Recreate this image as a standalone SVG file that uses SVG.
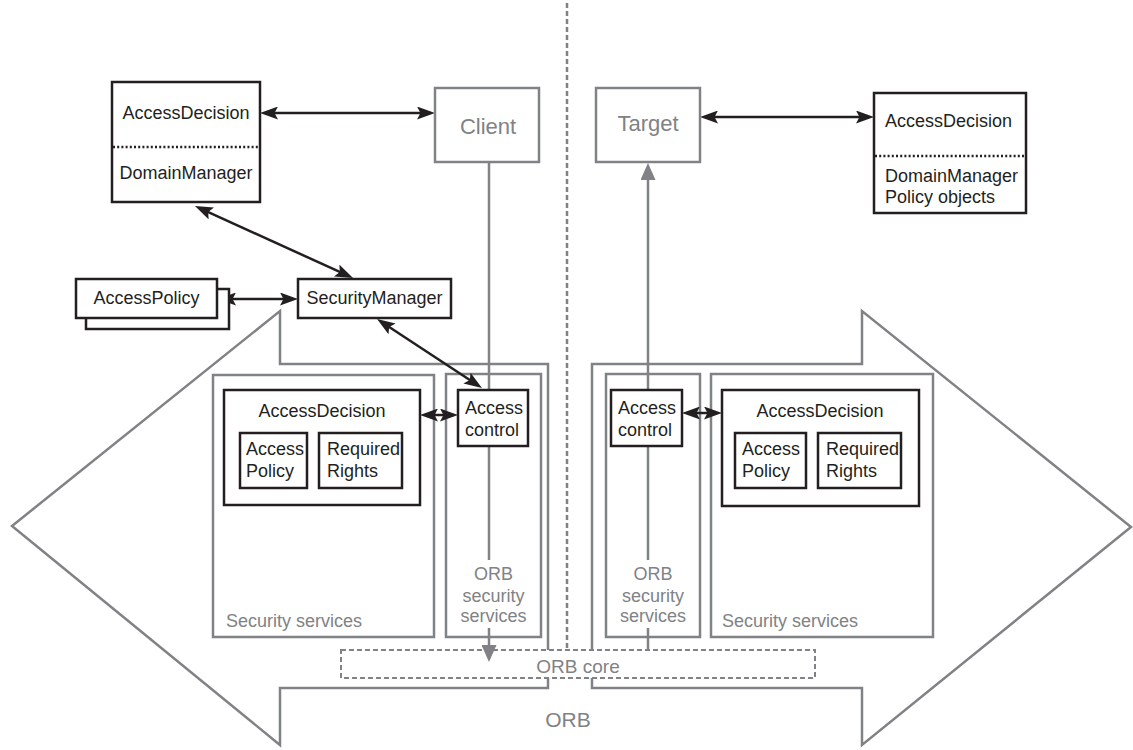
<svg xmlns="http://www.w3.org/2000/svg" width="1133" height="750" viewBox="0 0 1133 750">
  <defs>
    <style>
      .box{fill:#fff;stroke:#231f20;stroke-width:2.5}
      .gbox{fill:#fff;stroke:#808285;stroke-width:2.5}
      .frame{fill:none;stroke:#808285;stroke-width:2.5}
      .t{font-family:"Liberation Sans",Arial,sans-serif;font-size:18px;fill:#231f20}
      .tg{font-family:"Liberation Sans",Arial,sans-serif;font-size:18px;fill:#808285}
      .mid{text-anchor:middle}
      .con{fill:none;stroke:#231f20;stroke-width:2.5}
      .gcon{fill:none;stroke:#808285;stroke-width:2.5}
      .dots{stroke:#231f20;stroke-width:2.5;stroke-dasharray:2 2.2}
    </style>
    <marker id="ah" viewBox="0 0 18 13" refX="13" refY="6.5" markerWidth="18" markerHeight="13" markerUnits="userSpaceOnUse" orient="auto-start-reverse">
      <path d="M0,0 L18,6.5 L0,13 L3.5,6.5 z" fill="#231f20"/>
    </marker>
    <marker id="gh" viewBox="0 0 17 15" refX="13" refY="7.5" markerWidth="17" markerHeight="15" markerUnits="userSpaceOnUse" orient="auto">
      <path d="M0,0 L17,7.5 L0,15 z" fill="#808285"/>
    </marker>
  </defs>

  <!-- ORB outline arrows, service areas and the client/target divider -->
  <g id="background">
    <polygon class="frame" points="280,311 280,364 548,364 548,688 280,688 280,745 12,526"/>
    <polygon class="frame" points="862,311 862,364 592,364 592,688 862,688 862,745 1131,527"/>
    <line x1="567" y1="3" x2="567" y2="650" stroke="#808285" stroke-width="2.5" stroke-dasharray="5 3"/>
    <g id="sec-services-left">
      <rect class="frame" x="213" y="375" width="221" height="262"/>
      <text class="tg" x="226" y="627">Security services</text>
    </g>
    <g id="orb-sec-left">
      <rect class="frame" x="446" y="374" width="95" height="263"/>
      <text class="tg mid" x="493.5" y="580">ORB</text>
      <text class="tg mid" x="493.5" y="602">security</text>
      <text class="tg mid" x="493.5" y="622">services</text>
    </g>
    <g id="orb-sec-right">
      <rect class="frame" x="606" y="374" width="94" height="263"/>
      <text class="tg mid" x="653" y="580">ORB</text>
      <text class="tg mid" x="653" y="602">security</text>
      <text class="tg mid" x="653" y="622">services</text>
    </g>
    <g id="sec-services-right">
      <rect class="frame" x="711" y="374" width="222" height="263"/>
      <text class="tg" x="722" y="627">Security services</text>
    </g>
    <g id="orb-core">
      <rect x="341" y="650" width="474" height="28" fill="#fff" stroke="#808285" stroke-width="2" stroke-dasharray="5 3"/>
      <text class="tg mid" x="578" y="673" style="font-size:19px">ORB core</text>
    </g>
    <text class="tg mid" x="568" y="727" style="font-size:21px">ORB</text>
  </g>

  <!-- connectors -->
  <g id="connectors">
    <line class="con" x1="265" y1="113" x2="430" y2="113" marker-start="url(#ah)" marker-end="url(#ah)"/>
    <line class="con" x1="705" y1="117" x2="869" y2="117" marker-start="url(#ah)" marker-end="url(#ah)"/>
    <line class="con" x1="199.5" y1="208.1" x2="348.5" y2="275.9" marker-start="url(#ah)" marker-end="url(#ah)"/>
    <line class="con" x1="223" y1="299" x2="293" y2="299" marker-start="url(#ah)" marker-end="url(#ah)"/>
    <line class="con" x1="381.2" y1="321.7" x2="477.8" y2="385.3" marker-start="url(#ah)" marker-end="url(#ah)"/>
    <line class="con" x1="425" y1="415" x2="453" y2="415" marker-start="url(#ah)" marker-end="url(#ah)"/>
    <line class="con" x1="687" y1="413" x2="717" y2="413" marker-start="url(#ah)" marker-end="url(#ah)"/>
    <path class="gcon" d="M489,162 V560"/>
    <path class="gcon" d="M489,628 V658" marker-end="url(#gh)"/>
    <path class="gcon" d="M648,650 V628"/>
    <path class="gcon" d="M648,560 V167" marker-end="url(#gh)"/>
  </g>

  <g id="client-decision">
    <rect class="box" x="112" y="82" width="148" height="120"/>
    <line class="dots" x1="113" y1="147" x2="259" y2="147"/>
    <text class="t mid" x="186" y="119">AccessDecision</text>
    <text class="t mid" x="186" y="179">DomainManager</text>
  </g>

  <g id="client">
    <rect class="gbox" x="435" y="88" width="104" height="74"/>
    <text class="tg mid" x="488" y="134" style="font-size:22px">Client</text>
  </g>

  <g id="target">
    <rect class="gbox" x="596" y="88" width="104" height="74"/>
    <text class="tg mid" x="648" y="131" style="font-size:22px">Target</text>
  </g>

  <g id="target-decision">
    <rect class="box" x="874" y="93" width="152" height="120"/>
    <line class="dots" x1="875" y1="156" x2="1025" y2="156"/>
    <text class="t" x="885" y="127">AccessDecision</text>
    <text class="t" x="885" y="182">DomainManager</text>
    <text class="t" x="885" y="203">Policy objects</text>
  </g>

  <g id="access-policy">
    <rect class="box" x="86" y="289" width="143" height="40"/>
    <rect class="box" x="76" y="279" width="141" height="39"/>
    <text class="t mid" x="146.5" y="304">AccessPolicy</text>
  </g>

  <g id="security-manager">
    <rect class="box" x="298" y="279" width="153" height="39"/>
    <text class="t mid" x="374.5" y="304">SecurityManager</text>
  </g>

  <g id="decision-left">
    <rect class="box" x="224" y="390" width="196" height="115"/>
    <text class="t mid" x="322" y="417">AccessDecision</text>
    <rect class="box" x="240" y="433" width="67" height="55"/>
    <text class="t" x="246" y="455">Access</text>
    <text class="t" x="246" y="477">Policy</text>
    <rect class="box" x="319" y="433" width="83" height="55"/>
    <text class="t" x="327" y="455">Required</text>
    <text class="t" x="327" y="477">Rights</text>
  </g>

  <g id="access-control-left">
    <rect class="box" x="458" y="390" width="70" height="56"/>
    <text class="t" x="465" y="414">Access</text>
    <text class="t" x="465" y="436">control</text>
  </g>

  <g id="access-control-right">
    <rect class="box" x="611" y="390" width="71" height="56"/>
    <text class="t" x="618" y="414">Access</text>
    <text class="t" x="618" y="436">control</text>
  </g>

  <g id="decision-right">
    <rect class="box" x="722" y="390" width="197" height="116"/>
    <text class="t mid" x="820" y="417">AccessDecision</text>
    <rect class="box" x="735" y="433" width="71" height="55"/>
    <text class="t" x="742" y="455">Access</text>
    <text class="t" x="742" y="477">Policy</text>
    <rect class="box" x="818" y="433" width="83" height="55"/>
    <text class="t" x="826" y="455">Required</text>
    <text class="t" x="826" y="477">Rights</text>
  </g>
</svg>
